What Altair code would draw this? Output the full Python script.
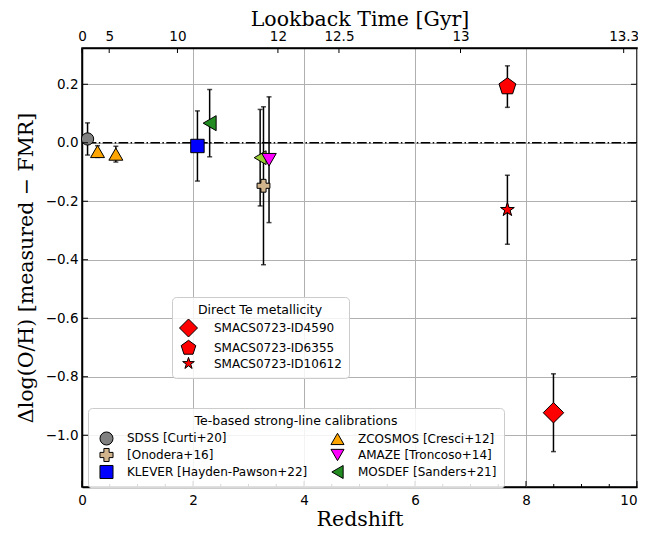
import altair as alt
import pandas as pd

# ---------------- data ----------------
# Te-based strong-line calibration samples
sl_names = ["SDSS [Curti+20]", "ZCOSMOS [Cresci+12]", "ZCOSMOS [Cresci+12]",
            "KLEVER [Hayden-Pawson+22]", "MOSDEF [Sanders+21]",
            "[Onodera+16]", "AMAZE [Troncoso+14]"]
sl_z = [0.10, 0.28, 0.61, 2.08, 2.30, 3.27, 3.37]
sl_dy = [0.013, -0.030, -0.039, -0.011, 0.067, -0.147, -0.058]
sl_err = [0.055, 0.020, 0.027, 0.120, 0.115, 0.270, 0.215]

# MOSDEF z~3.3 bin (drawn in a lighter green, not in legend)
m3_z = [3.21]
m3_dy = [-0.051]
m3_err = [0.165]

# Direct Te metallicity (JWST SMACS0723)
te_names = ["SMACS0723-ID4590", "SMACS0723-ID6355", "SMACS0723-ID10612"]
te_z = [8.495, 7.665, 7.665]
te_dy = [-0.923, 0.192, -0.229]
te_err = [0.133, 0.071, 0.118]

# legend order (2 columns, filled row-wise) and styles
sl_order = ["SDSS [Curti+20]", "[Onodera+16]", "KLEVER [Hayden-Pawson+22]",
            "ZCOSMOS [Cresci+12]", "AMAZE [Troncoso+14]", "MOSDEF [Sanders+21]"]
sl_colors = ["#808080", "#d2b48c", "#0000ff", "#ffa500", "#ff00ff", "#228b22"]
sl_shapes = ["circle", "cross", "square", "triangle-up", "triangle-down", "triangle-left"]
sl_sizes = [150, 225, 215, 180, 150, 190]

PENTAGON = "M0,-1L0.951,-0.309L0.588,0.809L-0.588,0.809L-0.951,-0.309Z"
STAR = ("M0,-1L0.2245,-0.309L0.951,-0.309L0.363,0.118L0.588,0.809L0,0.382"
        "L-0.588,0.809L-0.363,0.118L-0.951,-0.309L-0.2245,-0.309Z")
te_shapes = ["diamond", PENTAGON, STAR]
te_sizes = [420, 210, 270]
te_legend_sizes = [324, 150, 150]

# axis ticks
x_major = [0, 2, 4, 6, 8, 10]
x_minor = [0.5, 1, 1.5, 2.5, 3, 3.5, 4.5, 5, 5.5, 6.5, 7, 7.5, 8.5, 9, 9.5]
y_major = [-1.0, -0.8, -0.6, -0.4, -0.2, 0.0, 0.2]
lookback_labels = ["0", "5", "10", "12", "12.5", "13", "13.3"]
lookback_z = [0.0, 0.49, 1.72, 3.53, 4.63, 6.82, 9.76]

# ---------------- tables ----------------
sl = pd.DataFrame({"name": sl_names, "z": sl_z, "dy": sl_dy, "err": sl_err})
m3 = pd.DataFrame({"name": ["MOSDEF z3"], "z": m3_z, "dy": m3_dy, "err": m3_err})
te = pd.DataFrame({"name": te_names, "z": te_z, "dy": te_dy, "err": te_err})
allpts = pd.concat([sl, m3, te], ignore_index=True)
allpts["lo"] = allpts["dy"] - allpts["err"]
allpts["hi"] = allpts["dy"] + allpts["err"]
caps = pd.concat([pd.DataFrame({"z": allpts["z"], "dy": allpts["lo"]}),
                  pd.DataFrame({"z": allpts["z"], "dy": allpts["hi"]})], ignore_index=True)

W, H = 555, 439
TICK = 6
TICK_MINOR = 3

xscale = alt.Scale(domain=[0, 10], nice=False, zero=False)
yscale = alt.Scale(domain=[-1.177, 0.324], nice=False, zero=False)

SERIF = "DejaVu Serif"
SANS = "DejaVu Sans"
TFS = 20.5

x_axis = alt.Axis(title="Redshift", values=x_major, format="d", grid=True,
                  ticks=False, domain=True, labelPadding=6, titlePadding=3,
                  labelFlush=False,
                  labelAlign={"condition": {"test": "datum.value == 10", "value": "right"},
                              "value": "center"},
                  labelFont=SANS, labelFontSize=13.5, labelColor="black",
                  titleFont=SERIF, titleFontSize=TFS, titleFontWeight="normal",
                  titleColor="black")
y_axis = alt.Axis(title="\u0394log(O/H) [measured \u2212 FMR]", values=y_major,
                  format=".1f", grid=True, ticks=False, domain=True,
                  labelPadding=4, titlePadding=9, labelFlush=False,
                  labelFont=SANS, labelFontSize=13.5, labelColor="black",
                  titleFont=SERIF, titleFontSize=TFS, titleFontWeight="normal",
                  titleColor="black")

label_expr = " : ".join(f"datum.value == {v} ? '{t}'" for v, t in zip(lookback_z, lookback_labels)) + " : ''"
top_axis = alt.Axis(orient="top", title="Lookback Time [Gyr]", values=lookback_z,
                    labelExpr=label_expr, grid=False, ticks=False, domain=True,
                    labelPadding=5, titlePadding=0, labelFlush=False,
                    labelFont=SANS, labelFontSize=13.5, labelColor="black",
                    titleFont=SERIF, titleFontSize=TFS, titleFontWeight="normal",
                    titleColor="black")

X = alt.X("z:Q", scale=xscale, axis=x_axis)
Y = alt.Y("dy:Q", scale=yscale, axis=y_axis)

zero_line = alt.Chart(pd.DataFrame({"dy": [0.0]})).mark_rule(
    color="black", strokeWidth=1.5, strokeDash=[9.6, 2.4, 1.5, 2.4]
).encode(y=Y)

err_bars = alt.Chart(allpts).mark_rule(color="black", strokeWidth=1.5).encode(
    x=X, y=alt.Y("lo:Q", scale=yscale, axis=y_axis), y2="hi:Q")

err_caps = alt.Chart(caps).mark_tick(orient="horizontal", size=5, thickness=1.5,
                                     color="black").encode(x=X, y=Y)

sl_legend = alt.Legend(title="Te-based strong-line calibrations", orient="none",
                       legendX=6, legendY=360, columns=2, columnPadding=18,
                       rowPadding=-2, symbolSize=170, titleAnchor="middle",
                       symbolOffset=4, labelOffset=13, titlePadding=3,
                       labelLimit=400, titleLimit=500)

sl_fill = alt.Scale(domain=sl_order, range=sl_colors)
sl_shape = alt.Scale(domain=sl_order, range=sl_shapes)
sl_stroke = alt.Scale(domain=sl_order, range=["black"] * 6)

# legend-carrying layer (small symbols hidden beneath the drawn markers)
sl_carrier = alt.Chart(sl).mark_point(filled=True, strokeWidth=1, opacity=1,
                                      size=100).encode(
    x=X, y=Y,
    fill=alt.Fill("name:N", scale=sl_fill, legend=sl_legend),
    shape=alt.Shape("name:N", scale=sl_shape, legend=sl_legend),
    stroke=alt.Stroke("name:N", scale=sl_stroke, legend=sl_legend),
)

sl_pts = alt.Chart(sl).mark_point(filled=True, strokeWidth=1, opacity=1).encode(
    x=X, y=Y,
    fill=alt.Fill("name:N", scale=sl_fill, legend=None),
    shape=alt.Shape("name:N", scale=sl_shape, legend=None),
    stroke=alt.Stroke("name:N", scale=sl_stroke, legend=None),
    size=alt.Size("name:N", scale=alt.Scale(domain=sl_order, range=sl_sizes),
                  legend=None),
)

m3_pts = alt.Chart(m3).mark_point(filled=True, fill="#9acd32", stroke="black",
                                  strokeWidth=1, opacity=1, size=190,
                                  shape="triangle-left").encode(x=X, y=Y)

te_legend = alt.Legend(title="Direct Te metallicity", orient="none",
                       legendX=90, legendY=249, rowPadding=-3, titleAnchor="middle",
                       symbolOffset=0, labelOffset=16, titlePadding=2,
                       labelLimit=400, titleLimit=500)

te_fill = alt.Scale(domain=te_names, range=["#ff0000"] * 3)
te_shape = alt.Scale(domain=te_names, range=te_shapes)
te_stroke = alt.Scale(domain=te_names, range=["black"] * 3)

te_carrier = alt.Chart(te).mark_point(filled=True, strokeWidth=1, opacity=1).encode(
    x=X, y=Y,
    fill=alt.Fill("name:N", scale=te_fill, legend=te_legend),
    shape=alt.Shape("name:N", scale=te_shape, legend=te_legend),
    size=alt.Size("name:N", scale=alt.Scale(domain=te_names, range=te_legend_sizes),
                  legend=te_legend),
    stroke=alt.Stroke("name:N", scale=te_stroke, legend=te_legend),
)

te_pts = alt.Chart(te).mark_point(filled=True, strokeWidth=1, opacity=1).encode(
    x=X, y=Y,
    fill=alt.Fill("name:N", scale=te_fill, legend=None),
    shape=alt.Shape("name:N", scale=te_shape, legend=None),
    size=alt.Size("name:N", scale=alt.Scale(domain=te_names, range=te_sizes),
                  legend=None),
    stroke=alt.Stroke("name:N", scale=te_stroke, legend=None),
)

# inward tick marks
xt_major = pd.DataFrame({"z": x_major})
xt_minor = pd.DataFrame({"z": x_minor})
yt = pd.DataFrame({"dy": y_major})

bottom_major = alt.Chart(xt_major).mark_rule(color="black", strokeWidth=1).encode(
    x=X, y=alt.value(H), y2=alt.value(H - TICK))
bottom_minor = alt.Chart(xt_minor).mark_rule(color="black", strokeWidth=1).encode(
    x=X, y=alt.value(H), y2=alt.value(H - TICK_MINOR))
left_ticks = alt.Chart(yt).mark_rule(color="black", strokeWidth=1).encode(
    y=Y, x=alt.value(0), x2=alt.value(TICK))
right_ticks = alt.Chart(yt).mark_rule(color="black", strokeWidth=1).encode(
    y=Y, x=alt.value(W), x2=alt.value(W - TICK))

inner = alt.layer(zero_line, err_bars, err_caps, m3_pts, sl_carrier, sl_pts,
                  te_carrier, te_pts,
                  bottom_major, bottom_minor, left_ticks, right_ticks).resolve_scale(
    fill="independent", shape="independent", size="independent", stroke="independent")

top_ticks = alt.Chart(pd.DataFrame({"z": lookback_z})).mark_rule(
    color="black", strokeWidth=1).encode(
    x=alt.X("z:Q", scale=xscale, axis=top_axis), y=alt.value(0), y2=alt.value(TICK - 1))

chart = alt.layer(inner, top_ticks).resolve_axis(x="independent").properties(
    width=W, height=H,
    background="white",
    autosize=alt.AutoSizeParams(type="none"),
    padding={"left": 74, "top": 40, "right": 1, "bottom": 45},
).configure_view(stroke="black", strokeWidth=1.5).configure_axis(
    gridColor="#b0b0b0", gridWidth=1, domainColor="black", domainWidth=1.5
).configure_legend(
    labelFont=SANS, labelFontSize=12, labelColor="black",
    titleFont=SANS, titleFontSize=12.5, titleFontWeight="normal", titleColor="black",
    fillColor="rgba(255,255,255,0.85)", strokeColor="#cccccc", cornerRadius=4,
    padding=7, symbolStrokeColor="black", symbolStrokeWidth=1,
)

chart.save("out.html", embed_options={"renderer": "svg", "actions": False})
